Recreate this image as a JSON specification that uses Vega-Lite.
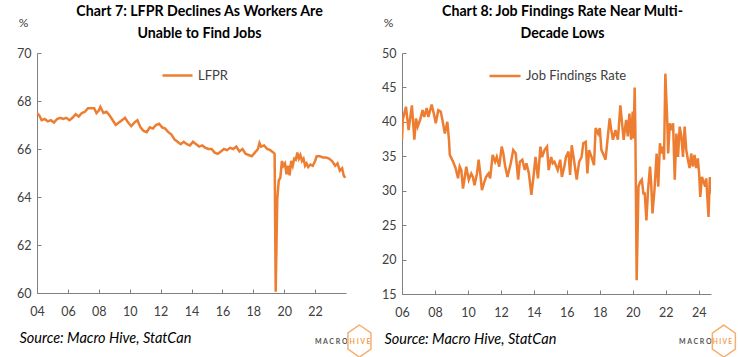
{
  "$schema": "https://vega.github.io/schema/vega-lite/v6.json",
  "padding": {"left": 16, "top": 4, "right": 0, "bottom": 0},
  "background": "white",
  "bounds": "flush",
  "spacing": 56,
  "resolve": {"scale": {"color": "independent", "x": "independent", "y": "independent"}, "legend": {"color": "independent"}},
  "config": {
    "font": "Lato",
    "view": {"stroke": null},
    "axis": {"grid": false, "domainColor": "#808080", "tickColor": "#808080", "labelColor": "#404040", "labelFontSize": 12.5, "labelFont": "Lato", "labelOverlap": false, "labelBound": false, "tickSize": -4, "tickCount": 50, "titleFont": "Lato", "titleFontWeight": "normal", "titleColor": "#404040"},
    "title": {"font": "Lato", "fontSize": 14.2, "fontWeight": "bold", "color": "#000000", "lineHeight": 22},
    "legend": {"labelFont": "Lato", "labelFontSize": 13, "labelColor": "#404040", "padding": 0}
  },
  "hconcat": [
    {
      "width": 309,
      "height": 240,
      "title": {"text": ["Chart 7: LFPR Declines As Workers Are", "Unable to Find Jobs"], "anchor": "middle", "dx": 8, "offset": -25},
      "layer": [
        {
          "data": {"values": [
            {"t": 2004.0, "v": 67.5}, {"t": 2004.15, "v": 67.4}, {"t": 2004.3, "v": 67.2}, {"t": 2004.5, "v": 67.25}, {"t": 2004.7, "v": 67.15}, {"t": 2004.9, "v": 67.2},
            {"t": 2005.1, "v": 67.1}, {"t": 2005.3, "v": 67.25}, {"t": 2005.5, "v": 67.3}, {"t": 2005.7, "v": 67.25}, {"t": 2005.9, "v": 67.3},
            {"t": 2006.1, "v": 67.2}, {"t": 2006.3, "v": 67.3}, {"t": 2006.5, "v": 67.45}, {"t": 2006.7, "v": 67.35}, {"t": 2006.9, "v": 67.5},
            {"t": 2007.1, "v": 67.55}, {"t": 2007.3, "v": 67.7}, {"t": 2007.5, "v": 67.7}, {"t": 2007.7, "v": 67.7}, {"t": 2007.85, "v": 67.5},
            {"t": 2008.0, "v": 67.6}, {"t": 2008.1, "v": 67.75}, {"t": 2008.3, "v": 67.5}, {"t": 2008.5, "v": 67.55}, {"t": 2008.7, "v": 67.4}, {"t": 2008.9, "v": 67.2},
            {"t": 2009.1, "v": 67.0}, {"t": 2009.3, "v": 67.1}, {"t": 2009.5, "v": 67.2}, {"t": 2009.7, "v": 67.3}, {"t": 2009.9, "v": 67.1},
            {"t": 2010.1, "v": 66.95}, {"t": 2010.3, "v": 67.1}, {"t": 2010.5, "v": 67.2}, {"t": 2010.7, "v": 66.9}, {"t": 2010.9, "v": 66.75},
            {"t": 2011.1, "v": 66.7}, {"t": 2011.3, "v": 66.9}, {"t": 2011.5, "v": 66.85}, {"t": 2011.7, "v": 67.0}, {"t": 2011.9, "v": 67.05},
            {"t": 2012.1, "v": 66.9}, {"t": 2012.3, "v": 66.85}, {"t": 2012.5, "v": 66.7}, {"t": 2012.7, "v": 66.6}, {"t": 2012.9, "v": 66.4},
            {"t": 2013.1, "v": 66.3}, {"t": 2013.3, "v": 66.2}, {"t": 2013.5, "v": 66.3}, {"t": 2013.7, "v": 66.2}, {"t": 2013.9, "v": 66.15},
            {"t": 2014.1, "v": 66.3}, {"t": 2014.3, "v": 66.2}, {"t": 2014.5, "v": 66.1}, {"t": 2014.7, "v": 66.15}, {"t": 2014.9, "v": 66.05},
            {"t": 2015.1, "v": 66.0}, {"t": 2015.3, "v": 66.0}, {"t": 2015.5, "v": 65.85}, {"t": 2015.7, "v": 65.8}, {"t": 2015.9, "v": 65.9},
            {"t": 2016.1, "v": 66.0}, {"t": 2016.3, "v": 65.95}, {"t": 2016.5, "v": 66.05}, {"t": 2016.7, "v": 66.0}, {"t": 2016.9, "v": 66.1},
            {"t": 2017.1, "v": 65.9}, {"t": 2017.3, "v": 66.0}, {"t": 2017.5, "v": 65.8}, {"t": 2017.7, "v": 65.75}, {"t": 2017.9, "v": 65.7},
            {"t": 2018.1, "v": 65.85}, {"t": 2018.3, "v": 66.0}, {"t": 2018.4, "v": 66.25}, {"t": 2018.5, "v": 66.1}, {"t": 2018.7, "v": 66.15}, {"t": 2018.9, "v": 66.0},
            {"t": 2019.1, "v": 65.95}, {"t": 2019.3, "v": 65.85}, {"t": 2019.38, "v": 65.8}, {"t": 2019.45, "v": 60.05}, {"t": 2019.55, "v": 63.9},
            {"t": 2019.65, "v": 64.7}, {"t": 2019.75, "v": 64.8}, {"t": 2019.85, "v": 65.5}, {"t": 2019.95, "v": 65.3},
            {"t": 2020.05, "v": 65.4}, {"t": 2020.15, "v": 64.95}, {"t": 2020.25, "v": 65.3}, {"t": 2020.35, "v": 64.9}, {"t": 2020.45, "v": 65.5},
            {"t": 2020.55, "v": 65.3}, {"t": 2020.65, "v": 65.6}, {"t": 2020.75, "v": 65.55}, {"t": 2020.85, "v": 65.85}, {"t": 2020.95, "v": 65.6},
            {"t": 2021.05, "v": 65.75}, {"t": 2021.15, "v": 65.5}, {"t": 2021.25, "v": 65.6}, {"t": 2021.35, "v": 65.3}, {"t": 2021.45, "v": 65.4},
            {"t": 2021.55, "v": 65.25}, {"t": 2021.7, "v": 65.35}, {"t": 2021.85, "v": 65.3},
            {"t": 2022.0, "v": 65.5}, {"t": 2022.1, "v": 65.7}, {"t": 2022.3, "v": 65.7}, {"t": 2022.5, "v": 65.65}, {"t": 2022.7, "v": 65.65}, {"t": 2022.9, "v": 65.6},
            {"t": 2023.1, "v": 65.5}, {"t": 2023.3, "v": 65.3}, {"t": 2023.45, "v": 65.4}, {"t": 2023.6, "v": 65.1}, {"t": 2023.75, "v": 65.2}, {"t": 2023.85, "v": 64.9}, {"t": 2023.95, "v": 64.8}
          ]},
          "mark": {"type": "line", "strokeWidth": 2.5, "clip": true},
          "encoding": {
            "x": {"field": "t", "type": "quantitative", "scale": {"domain": [2004, 2024], "nice": false, "zero": false},
              "axis": {"values": [2004, 2006, 2008, 2010, 2012, 2014, 2016, 2018, 2020, 2022], "tickCount": 50, "labelExpr": "slice(toString(datum.value), 2)", "labelPadding": 16, "labelOverlap": false, "labelFlush": false,
                "title": "Source: Macro Hive, StatCan", "titleFontStyle": "italic", "titleFontSize": 14.5, "titleColor": "#000000", "titleAlign": "left", "titleX": -18, "titleY": 45, "titleBaseline": "middle"}},
            "y": {"field": "v", "type": "quantitative", "scale": {"domain": [60, 70], "nice": false, "zero": false},
              "axis": {"values": [60, 62, 64, 66, 68, 70], "tickCount": 50, "format": "d", "labelPadding": 10, "labelOverlap": false, "labelFlush": false, "title": "%", "titleAngle": 0, "titleX": -14, "titleY": -31, "titleAlign": "center", "titleBaseline": "middle", "titleFontSize": 12}},
            "color": {"datum": "LFPR", "type": "nominal", "scale": {"range": ["#ED7D31"]},
              "legend": {"title": null, "orient": "none", "legendX": 124, "legendY": 6, "symbolType": "stroke", "symbolSize": 900, "symbolStrokeWidth": 2.5}}
          }
        },
        {
          "data": {"values": [{"label": "M A C R O"}]},
          "mark": {"type": "text", "align": "right", "baseline": "middle", "fontSize": 7, "fontWeight": "bold", "color": "#555555"},
          "encoding": {"x": {"datum": 2024.1}, "y": {"datum": 57.97}, "text": {"field": "label"}}
        },
        {
          "data": {"values": [{"label": "H I V E"}]},
          "mark": {"type": "text", "align": "left", "baseline": "middle", "dx": 2, "fontSize": 7, "fontWeight": "bold", "color": "#F0A050"},
          "encoding": {"x": {"datum": 2024.1}, "y": {"datum": 57.97}, "text": {"field": "label"}}
        },
        {
          "data": {"values": [{"logo": "hex"}]},
          "mark": {"type": "point", "shape": "M0,-1L0.72,-0.5L0.72,0.5L0,1L-0.72,0.5L-0.72,-0.5Z", "size": 1024, "filled": false, "stroke": "#F5B070", "strokeWidth": 1.5, "opacity": 1},
          "encoding": {"x": {"datum": 2024.87}, "y": {"datum": 58.0}}
        }
      ]
    },
    {
      "width": 309,
      "height": 241,
      "title": {"text": ["Chart 8: Job Findings Rate Near Multi-", "Decade Lows"], "anchor": "middle", "dx": 6, "offset": -25},
      "layer": [
        {
          "data": {"values": [
            {"t": 2006.0, "v": 37.4}, {"t": 2006.05, "v": 40.3}, {"t": 2006.24, "v": 42.2}, {"t": 2006.4, "v": 38.8}, {"t": 2006.6, "v": 42.4}, {"t": 2006.75, "v": 37.4},
            {"t": 2006.85, "v": 40.5}, {"t": 2006.95, "v": 39.3}, {"t": 2007.1, "v": 40.3}, {"t": 2007.25, "v": 41.7}, {"t": 2007.35, "v": 40.7}, {"t": 2007.5, "v": 42.0},
            {"t": 2007.6, "v": 40.7}, {"t": 2007.8, "v": 42.5}, {"t": 2007.95, "v": 41.0}, {"t": 2008.05, "v": 39.8}, {"t": 2008.2, "v": 41.7}, {"t": 2008.35, "v": 41.5},
            {"t": 2008.45, "v": 40.3}, {"t": 2008.6, "v": 38.3}, {"t": 2008.75, "v": 40.0}, {"t": 2008.85, "v": 37.4}, {"t": 2008.9, "v": 35.2}, {"t": 2009.1, "v": 34.2},
            {"t": 2009.25, "v": 33.3}, {"t": 2009.4, "v": 31.8}, {"t": 2009.5, "v": 33.5}, {"t": 2009.6, "v": 33.0}, {"t": 2009.7, "v": 30.3}, {"t": 2009.8, "v": 31.8},
            {"t": 2009.9, "v": 33.5}, {"t": 2010.05, "v": 31.6}, {"t": 2010.2, "v": 32.5}, {"t": 2010.3, "v": 32.0}, {"t": 2010.4, "v": 30.8}, {"t": 2010.55, "v": 32.5},
            {"t": 2010.65, "v": 34.5}, {"t": 2010.75, "v": 32.5}, {"t": 2010.85, "v": 30.1}, {"t": 2011.0, "v": 31.3}, {"t": 2011.1, "v": 32.0}, {"t": 2011.25, "v": 32.5},
            {"t": 2011.35, "v": 31.8}, {"t": 2011.5, "v": 35.2}, {"t": 2011.65, "v": 34.2}, {"t": 2011.75, "v": 34.9}, {"t": 2011.9, "v": 33.5}, {"t": 2012.05, "v": 36.4},
            {"t": 2012.15, "v": 35.4}, {"t": 2012.25, "v": 33.7}, {"t": 2012.4, "v": 32.0}, {"t": 2012.6, "v": 34.0}, {"t": 2012.75, "v": 35.9}, {"t": 2012.9, "v": 35.4},
            {"t": 2013.05, "v": 31.6}, {"t": 2013.15, "v": 34.2}, {"t": 2013.3, "v": 34.5}, {"t": 2013.45, "v": 33.0}, {"t": 2013.55, "v": 34.0}, {"t": 2013.7, "v": 32.5},
            {"t": 2013.85, "v": 29.4}, {"t": 2014.0, "v": 32.5}, {"t": 2014.1, "v": 34.9}, {"t": 2014.25, "v": 31.8}, {"t": 2014.4, "v": 36.4}, {"t": 2014.5, "v": 34.9},
            {"t": 2014.65, "v": 35.9}, {"t": 2014.8, "v": 36.4}, {"t": 2014.9, "v": 33.0}, {"t": 2015.05, "v": 34.9}, {"t": 2015.15, "v": 34.0}, {"t": 2015.25, "v": 34.2},
            {"t": 2015.45, "v": 33.0}, {"t": 2015.6, "v": 34.5}, {"t": 2015.7, "v": 32.0}, {"t": 2015.85, "v": 33.5}, {"t": 2015.95, "v": 34.9}, {"t": 2016.1, "v": 35.7},
            {"t": 2016.2, "v": 32.3}, {"t": 2016.3, "v": 36.6}, {"t": 2016.45, "v": 34.2}, {"t": 2016.6, "v": 31.6}, {"t": 2016.75, "v": 34.2}, {"t": 2016.9, "v": 34.9},
            {"t": 2017.0, "v": 36.9}, {"t": 2017.15, "v": 37.1}, {"t": 2017.25, "v": 32.5}, {"t": 2017.35, "v": 35.9}, {"t": 2017.5, "v": 34.9}, {"t": 2017.65, "v": 33.7},
            {"t": 2017.75, "v": 39.1}, {"t": 2017.9, "v": 38.3}, {"t": 2018.0, "v": 39.1}, {"t": 2018.1, "v": 35.9}, {"t": 2018.2, "v": 35.4}, {"t": 2018.35, "v": 34.5},
            {"t": 2018.45, "v": 36.9}, {"t": 2018.6, "v": 40.5}, {"t": 2018.7, "v": 38.8}, {"t": 2018.8, "v": 37.4}, {"t": 2018.95, "v": 38.8}, {"t": 2019.1, "v": 37.4},
            {"t": 2019.25, "v": 42.4}, {"t": 2019.45, "v": 37.4}, {"t": 2019.6, "v": 40.3}, {"t": 2019.7, "v": 37.9}, {"t": 2019.8, "v": 41.2}, {"t": 2019.9, "v": 37.4},
            {"t": 2020.0, "v": 41.5}, {"t": 2020.05, "v": 37.6}, {"t": 2020.12, "v": 45.0}, {"t": 2020.16, "v": 38.8}, {"t": 2020.24, "v": 17.0}, {"t": 2020.35, "v": 30.6},
            {"t": 2020.45, "v": 31.3}, {"t": 2020.55, "v": 31.6}, {"t": 2020.65, "v": 29.6}, {"t": 2020.73, "v": 29.6}, {"t": 2020.83, "v": 25.7}, {"t": 2020.93, "v": 30.1},
            {"t": 2021.05, "v": 33.5}, {"t": 2021.12, "v": 31.1}, {"t": 2021.2, "v": 26.7}, {"t": 2021.32, "v": 30.1}, {"t": 2021.45, "v": 35.4}, {"t": 2021.55, "v": 30.6},
            {"t": 2021.65, "v": 36.9}, {"t": 2021.75, "v": 35.4}, {"t": 2021.85, "v": 36.4}, {"t": 2021.9, "v": 34.5}, {"t": 2021.98, "v": 47.0}, {"t": 2022.1, "v": 39.8},
            {"t": 2022.15, "v": 35.4}, {"t": 2022.25, "v": 39.8}, {"t": 2022.35, "v": 38.8}, {"t": 2022.45, "v": 39.8}, {"t": 2022.55, "v": 31.6}, {"t": 2022.65, "v": 38.3},
            {"t": 2022.75, "v": 34.9}, {"t": 2022.85, "v": 39.3}, {"t": 2022.95, "v": 37.9}, {"t": 2023.05, "v": 34.9}, {"t": 2023.15, "v": 39.3}, {"t": 2023.25, "v": 35.9},
            {"t": 2023.35, "v": 34.5}, {"t": 2023.45, "v": 33.3}, {"t": 2023.55, "v": 35.4}, {"t": 2023.65, "v": 33.5}, {"t": 2023.75, "v": 35.2}, {"t": 2023.85, "v": 33.3},
            {"t": 2023.95, "v": 34.7}, {"t": 2024.03, "v": 32.5}, {"t": 2024.1, "v": 29.1}, {"t": 2024.2, "v": 32.0}, {"t": 2024.3, "v": 31.3}, {"t": 2024.4, "v": 30.6},
            {"t": 2024.46, "v": 31.8}, {"t": 2024.6, "v": 26.2}, {"t": 2024.68, "v": 32.0}, {"t": 2024.73, "v": 29.6}
          ]},
          "mark": {"type": "line", "strokeWidth": 2.5, "clip": true},
          "encoding": {
            "x": {"field": "t", "type": "quantitative", "scale": {"domain": [2006, 2024.75], "nice": false, "zero": false},
              "axis": {"values": [2006, 2008, 2010, 2012, 2014, 2016, 2018, 2020, 2022, 2024], "tickCount": 50, "labelExpr": "slice(toString(datum.value), 2)", "labelPadding": 16, "labelOverlap": false, "labelFlush": false,
                "title": "Source: Macro Hive, StatCan", "titleFontStyle": "italic", "titleFontSize": 14.5, "titleColor": "#000000", "titleAlign": "left", "titleX": -18, "titleY": 45, "titleBaseline": "middle"}},
            "y": {"field": "v", "type": "quantitative", "scale": {"domain": [15, 50], "nice": false, "zero": false},
              "axis": {"values": [15, 20, 25, 30, 35, 40, 45, 50], "tickCount": 50, "format": "d", "labelPadding": 10, "labelOverlap": false, "labelFlush": false, "title": "%", "titleAngle": 0, "titleX": -14, "titleY": -31, "titleAlign": "center", "titleBaseline": "middle", "titleFontSize": 12}},
            "color": {"datum": "Job Findings Rate", "type": "nominal", "scale": {"range": ["#ED7D31"]},
              "legend": {"title": null, "orient": "none", "legendX": 86, "legendY": 6, "symbolType": "stroke", "symbolSize": 961, "symbolStrokeWidth": 2.5}}
          }
        },
        {
          "data": {"values": [{"label": "M A C R O"}]},
          "mark": {"type": "text", "align": "right", "baseline": "middle", "fontSize": 7, "fontWeight": "bold", "color": "#555555"},
          "encoding": {"x": {"datum": 2024.79}, "y": {"datum": 8.07}, "text": {"field": "label"}}
        },
        {
          "data": {"values": [{"label": "H I V E"}]},
          "mark": {"type": "text", "align": "left", "baseline": "middle", "dx": 1, "fontSize": 6.5, "fontWeight": "bold", "color": "#F0A050"},
          "encoding": {"x": {"datum": 2024.79}, "y": {"datum": 8.07}, "text": {"field": "label"}}
        },
        {
          "data": {"values": [{"logo": "hex"}]},
          "mark": {"type": "point", "shape": "M0,-1L0.72,-0.5L0.72,0.5L0,1L-0.72,0.5L-0.72,-0.5Z", "size": 1024, "filled": false, "stroke": "#F5B070", "strokeWidth": 1.5, "opacity": 1},
          "encoding": {"x": {"datum": 2025.53}, "y": {"datum": 8.17}}
        }
      ]
    }
  ]
}
